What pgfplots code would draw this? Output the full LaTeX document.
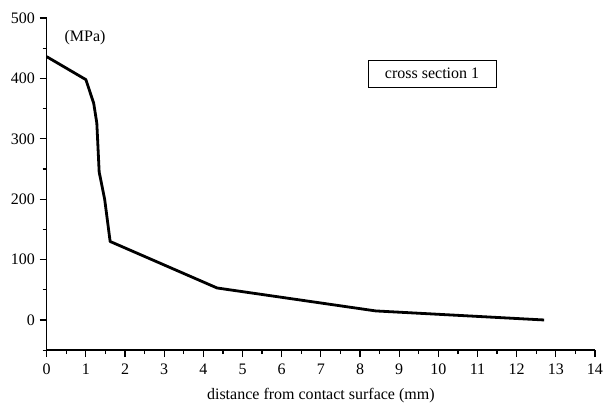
\documentclass[border=0pt]{standalone}
\usepackage{fontspec}
\setmainfont{Liberation Serif}
\usepackage{pgfplots}
\pgfplotsset{compat=1.18}
\usetikzlibrary{shadows}
\begin{document}
\begin{tikzpicture}[font=\fontsize{12}{14}\selectfont]
\begin{axis}[
  scale only axis,
  width=411pt, height=249pt,
  xmin=0, xmax=14, ymin=-50, ymax=500,
  axis x line*=bottom, axis y line*=left,
  axis line style={line width=1.1pt},
  xtick={0,1,...,14}, ytick={0,100,...,500},
  minor xtick={0.5,1.5,...,13.5}, minor ytick={-50,50,150,250,350,450},
  tick align=outside,
  major tick length=5.25pt, minor tick length=3pt,
  tick style={line width=0.9pt, black},
  tick label style={font=\fontsize{12}{14}\selectfont},
  xticklabel style={yshift=-1.5pt},
  label style={font=\fontsize{12}{14}\selectfont},
  /pgf/number format/assume math mode=true,
  xlabel={distance from contact surface (mm)},
  xlabel style={yshift=-3pt},
  clip=false,
]
\addplot[black, line width=2.1pt, line join=round] coordinates {
(0,436) (1.0,398) (1.2,359) (1.28,326) (1.34,245) (1.48,200) (1.62,130) (4.35,53) (8.4,15) (12.7,0)
};
\node[font=\fontsize{12}{14}\selectfont] at (axis cs:0.98,467) {(MPa)};
\node[draw, fill=white, line width=0.6pt, inner sep=2pt, minimum width=96pt, minimum height=20pt,
  font=\fontsize{12}{14}\selectfont,
  drop shadow={shadow xshift=1pt, shadow yshift=-1pt, fill=gray}] at (axis cs:9.84,408) {cross section 1};
\coordinate (bl) at (rel axis cs:0,0);
\coordinate (tr) at (rel axis cs:1,1);
\end{axis}
\pgfresetboundingbox
\path[use as bounding box] ([shift={(-35pt,-43.5pt)}]bl) rectangle ([shift={(7.5pt,13.5pt)}]tr);
\end{tikzpicture}
\end{document}
